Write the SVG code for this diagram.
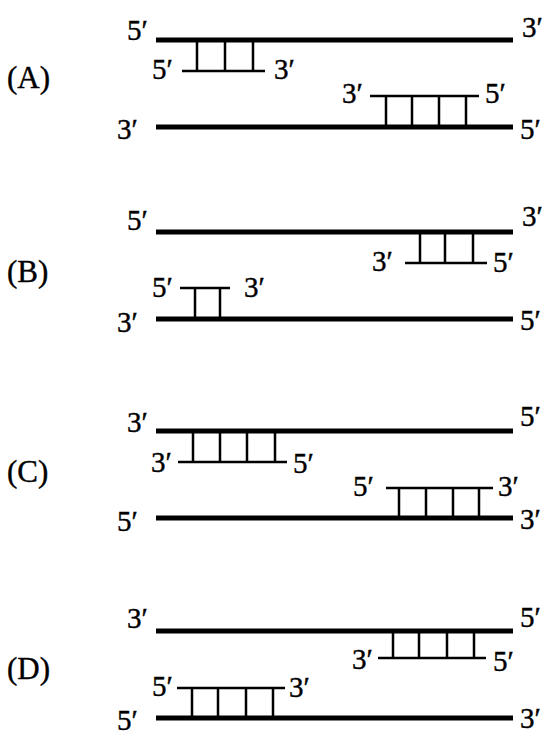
<svg xmlns="http://www.w3.org/2000/svg" width="552" height="731" viewBox="0 0 552 731">
<style>
.s{stroke:#000;stroke-width:5;fill:none}
.p{stroke:#000;stroke-width:2.5;fill:none}
text{font-family:"Liberation Serif","Times New Roman",serif;font-size:29px;fill:#000;stroke:#000;stroke-width:0.4}
.lab{font-size:31px}
</style>
<rect width="552" height="731" fill="#fff"/>
<g id="panelA">
<text class="lab" x="7" y="88">(A)</text>
<line class="s" x1="156" y1="40" x2="513" y2="40"/>
<line class="s" x1="156" y1="127" x2="513" y2="127"/>
<text x="127" y="40">5′</text><text x="522" y="37">3′</text>
<text x="117" y="139">3′</text><text x="520" y="139">5′</text>
<g id="primerA1">
<path class="p" d="M182 71H265M197 40V71M225 40V71M253 40V71"/>
<text x="152" y="79">5′</text><text x="274" y="79">3′</text>
</g>
<g id="primerA2">
<path class="p" d="M370 96H479M386 96V127M412 96V127M439 96V127M466 96V127"/>
<text x="342" y="103">3′</text><text x="485" y="103">5′</text>
</g>
</g>
<g id="panelB">
<text class="lab" x="7" y="282">(B)</text>
<line class="s" x1="156" y1="232" x2="513" y2="232"/>
<line class="s" x1="156" y1="319" x2="513" y2="319"/>
<text x="127" y="230">5′</text><text x="522" y="226">3′</text>
<text x="117" y="332">3′</text><text x="520" y="330">5′</text>
<g id="primerB1">
<path class="p" d="M405 263H487M420 232V263M445 232V263M473 232V263"/>
<text x="372" y="271">3′</text><text x="493" y="272">5′</text>
</g>
<g id="primerB2">
<path class="p" d="M180 288H230M195 288V319M220 288V319"/>
<text x="152" y="297">5′</text><text x="244" y="297">3′</text>
</g>
</g>
<g id="panelC">
<text class="lab" x="7" y="482">(C)</text>
<line class="s" x1="156" y1="431" x2="513" y2="431"/>
<line class="s" x1="156" y1="518" x2="513" y2="518"/>
<text x="127" y="432">3′</text><text x="520" y="426">5′</text>
<text x="117" y="531">5′</text><text x="520" y="529">3′</text>
<g id="primerC1">
<path class="p" d="M178 462H287M193 431V462M220 431V462M247 431V462M275 431V462"/>
<text x="151" y="472">3′</text><text x="293" y="473">5′</text>
</g>
<g id="primerC2">
<path class="p" d="M386 488H493M399 488V518M426 488V518M453 488V518M479 488V518"/>
<text x="353" y="496">5′</text><text x="498" y="496">3′</text>
</g>
</g>
<g id="panelD">
<text class="lab" x="7" y="679">(D)</text>
<line class="s" x1="156" y1="631" x2="513" y2="631"/>
<line class="s" x1="156" y1="718" x2="513" y2="718"/>
<text x="127" y="628">3′</text><text x="520" y="627">5′</text>
<text x="117" y="730">5′</text><text x="520" y="728">3′</text>
<g id="primerD1">
<path class="p" d="M378 658H486M393 631V658M419 631V658M447 631V658M474 631V658"/>
<text x="352" y="669">3′</text><text x="493" y="671">5′</text>
</g>
<g id="primerD2">
<path class="p" d="M177 688H285M192 688V718M218 688V718M246 688V718M273 688V718"/>
<text x="152" y="696">5′</text><text x="289" y="697">3′</text>
</g>
</g>
</svg>
